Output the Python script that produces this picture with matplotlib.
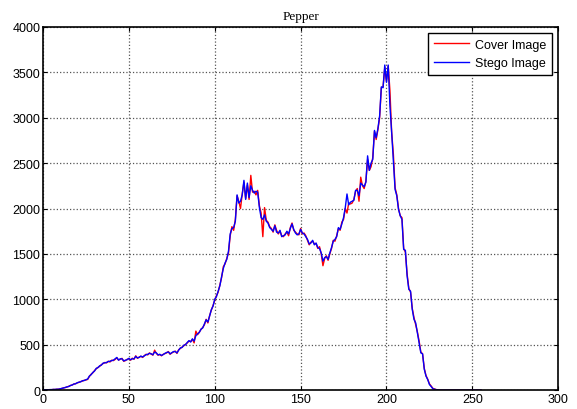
import matplotlib
matplotlib.use("Agg")
import matplotlib.pyplot as plt
import numpy as np

# grey level 0..255
levels = np.arange(256)

cover = [5, 3, 4, 2, 6, 4, 8, 6, 10, 9,
         15, 18, 25, 28, 35, 42, 50, 58, 66, 72,
         80, 86, 95, 100, 108, 112, 118, 150, 175, 190,
         215, 235, 250, 262, 280, 292, 305, 300, 318, 310,
         330, 325, 338, 355, 332, 340, 350, 318, 325, 340,
         345, 330, 352, 340, 378, 350, 365, 372, 360, 380,
         395, 388, 410, 398, 385, 440, 405, 385, 392, 378,
         395, 402, 410, 425, 395, 410, 420, 430, 405, 445,
         460, 475, 488, 505, 520, 540, 535, 560, 520, 650,
         610, 640, 668, 690, 720, 780, 740, 820, 880, 930,
         990, 1040, 1080, 1160, 1240, 1360, 1390, 1450, 1510, 1700,
         1800, 1760, 1880, 2140, 2080, 2000, 2160, 2290, 2110, 2260,
         2100, 2365, 2180, 2190, 2150, 2200, 2030, 1950, 1690, 2010,
         1870, 1850, 1800, 1780, 1740, 1820, 1760, 1720, 1750, 1700,
         1690, 1720, 1740, 1700, 1790, 1840, 1760, 1740, 1720, 1710,
         1780, 1720, 1730, 1700, 1650, 1600, 1630, 1640, 1610, 1615,
         1560, 1580, 1500, 1370, 1450, 1480, 1430, 1500, 1560, 1650,
         1640, 1700, 1780, 1760, 1850, 1880, 2000, 1950, 2060, 2050,
         2060, 2100, 2190, 2220, 2080, 2345, 2250, 2220, 2300, 2540,
         2420, 2460, 2560, 2850, 2760, 2870, 3000, 3330, 3340, 3550,
         3400, 3570, 3300, 2840, 2600, 2230, 2150, 2000, 1920, 1900,
         1560, 1520, 1280, 1120, 1080, 900, 800, 720, 640, 540,
         420, 400, 240, 160, 120, 70, 45, 20, 12, 6,
         3, 0, 0, 0, 0, 0, 0, 0, 0, 0,
         0, 0, 0, 0, 0, 0, 0, 0, 0, 0,
         0, 0, 0, 0, 0, 0]

stego = [3, 5, 3, 4, 5, 6, 7, 8, 9, 11,
         14, 20, 24, 30, 36, 40, 52, 56, 68, 70,
         82, 88, 92, 104, 106, 115, 122, 155, 170, 195,
         210, 240, 248, 268, 276, 298, 300, 305, 315, 318,
         325, 330, 345, 360, 330, 345, 345, 322, 330, 335,
         350, 335, 345, 345, 372, 355, 360, 375, 365, 378,
         390, 395, 405, 400, 390, 420, 410, 388, 395, 382,
         392, 405, 415, 420, 400, 412, 425, 425, 410, 440,
         465, 470, 495, 500, 525, 545, 530, 565, 540, 600,
         620, 635, 672, 685, 730, 775, 750, 815, 885, 925,
         1000, 1030, 1090, 1150, 1250, 1340, 1400, 1440, 1530, 1720,
         1780, 1790, 1860, 2150, 2060, 2080, 2150, 2310, 2100, 2280,
         2120, 2250, 2200, 2170, 2190, 2180, 2010, 1900, 1880, 1930,
         1860, 1840, 1790, 1770, 1750, 1810, 1740, 1730, 1760, 1690,
         1700, 1710, 1750, 1720, 1780, 1830, 1770, 1730, 1710, 1720,
         1770, 1730, 1720, 1690, 1660, 1610, 1620, 1650, 1600, 1620,
         1570, 1560, 1510, 1420, 1460, 1470, 1440, 1510, 1570, 1640,
         1660, 1690, 1790, 1770, 1830, 1900, 2010, 2160, 2040, 2070,
         2080, 2090, 2200, 2200, 2140, 2280, 2260, 2240, 2290, 2580,
         2420, 2500, 2540, 2860, 2780, 2880, 3020, 3340, 3330, 3580,
         3390, 3580, 3130, 2840, 2520, 2210, 2140, 1990, 1920, 1880,
         1550, 1540, 1260, 1110, 1090, 890, 780, 740, 630, 520,
         410, 400, 230, 155, 117, 62, 40, 15, 10, 5,
         2, 0, 0, 0, 0, 0, 0, 0, 0, 0,
         0, 0, 0, 0, 0, 0, 0, 0, 0, 0,
         0, 0, 0, 0, 0, 0]

fig = plt.figure(figsize=(5.77, 4.10), dpi=100)
ax = fig.add_axes([0.0745, 0.046, 0.893, 0.886])

ax.plot(levels, cover, color="#ff0000", lw=1.0, label="Cover Image")
ax.plot(levels, stego, color="#0000ff", lw=1.0, label="Stego Image")

ax.set_xlim(0, 300)
ax.set_ylim(0, 4000)
ax.set_xticks(np.arange(0, 301, 50))
ax.set_yticks(np.arange(0, 4001, 500))
ax.tick_params(direction="in", top=True, right=True, labelsize=9, length=3,
               pad=2)
for lab in ax.get_xticklabels() + ax.get_yticklabels():
    lab.set_family("Liberation Sans")
for s in ax.spines.values():
    s.set_linewidth(1.2)
ax.grid(True, color="#555555", linestyle=":", linewidth=0.9)

ax.set_title("Pepper", fontsize=9.5, family="Liberation Serif", pad=6)

leg = ax.legend(loc="upper right", fancybox=False,
                framealpha=1, edgecolor="black", borderaxespad=0.5,
                handlelength=2.8, borderpad=0.45, labelspacing=0.5,
                handletextpad=0.5,
                prop={"family": "Liberation Sans", "size": 9})
leg.get_frame().set_linewidth(1.0)

fig.savefig("out.png", dpi=100)
